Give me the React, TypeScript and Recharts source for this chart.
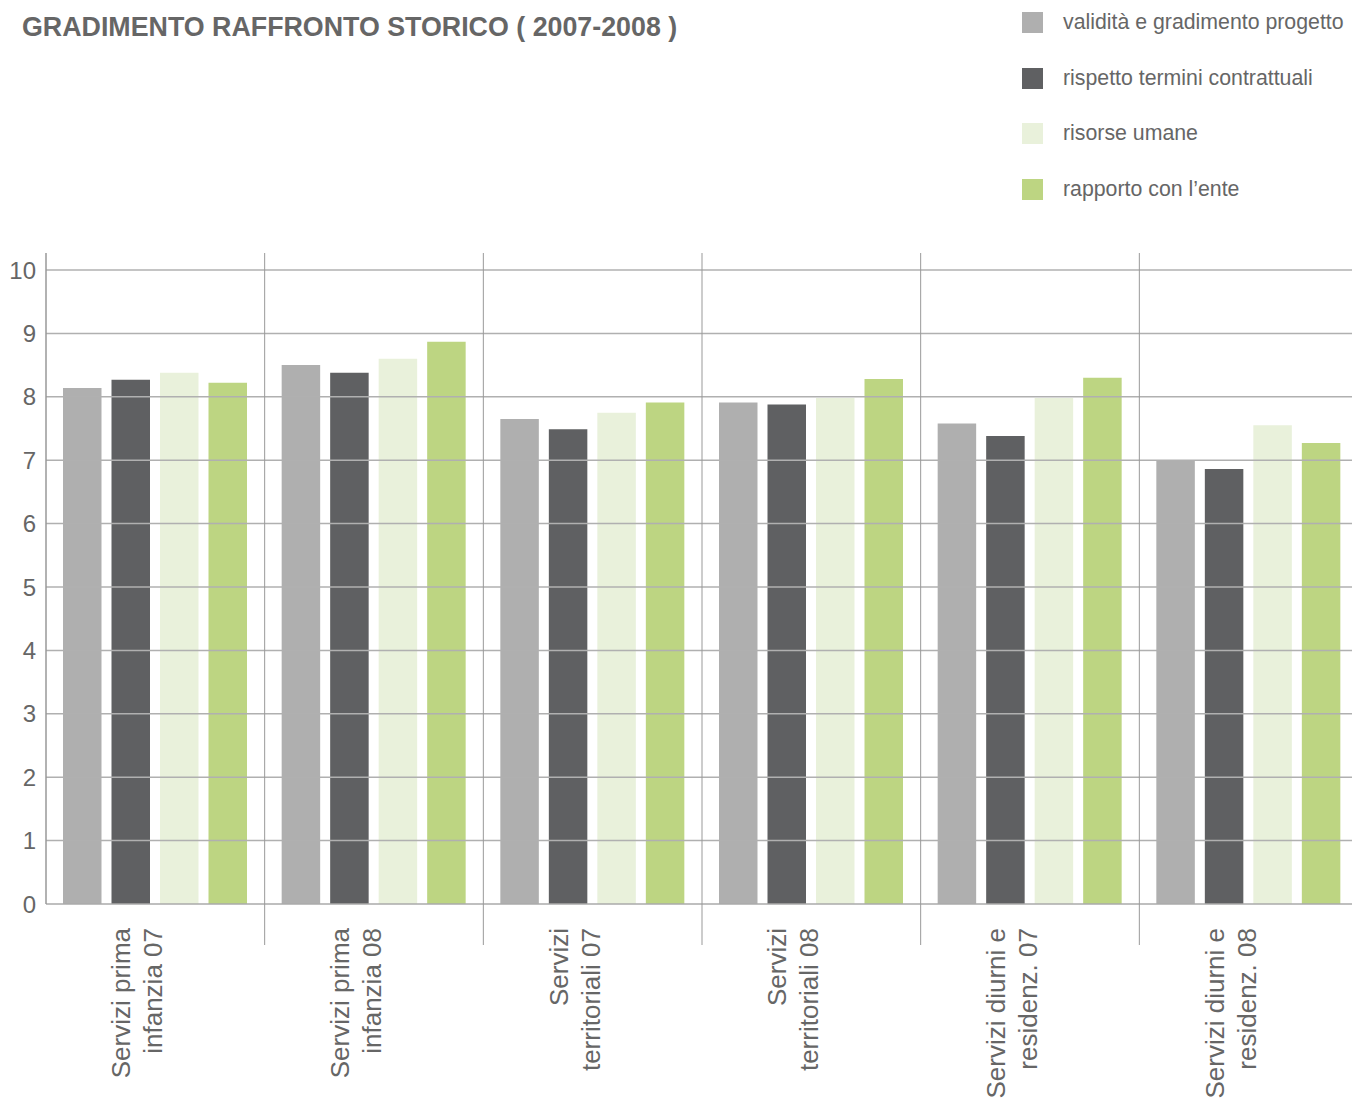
import React from "react"
import { BarChart, Bar, XAxis, YAxis, ReferenceLine } from "recharts"

const categories = [
  ["Servizi prima", "infanzia 07"],
  ["Servizi prima", "infanzia 08"],
  ["Servizi", "territoriali 07"],
  ["Servizi", "territoriali 08"],
  ["Servizi diurni e", "residenz. 07"],
  ["Servizi diurni e", "residenz. 08"],
]

const validita = [8.14, 8.5, 7.65, 7.91, 7.58, 7.0]
const rispetto = [8.27, 8.38, 7.49, 7.88, 7.38, 6.86]
const risorse = [8.38, 8.6, 7.75, 7.98, 7.98, 7.55]
const rapporto = [8.22, 8.87, 7.91, 8.28, 8.3, 7.27]

const yTicks = [0, 1, 2, 3, 4, 5, 6, 7, 8, 9, 10]

const series = [
  { key: "validita", name: "validità e gradimento progetto", color: "#afafaf" },
  { key: "rispetto", name: "rispetto termini contrattuali", color: "#5f6062" },
  { key: "risorse", name: "risorse umane", color: "#e9f1db" },
  { key: "rapporto", name: "rapporto con l’ente", color: "#bdd582" },
]

const data = categories.map((c, i) => ({
  name: c.join(" "),
  validita: validita[i],
  rispetto: rispetto[i],
  risorse: risorse[i],
  rapporto: rapporto[i],
}))

const W = 1352
const H = 1101
const CHART_W = 1358 // plot runs a little past the right edge, like the original
const TOP = 253
const AXIS_Y = 904
const Y_W = 46
const BAND = (CHART_W - Y_W) / categories.length
const FONT = '"Liberation Sans", Arial, Helvetica, sans-serif'
const TEXT = "#666666"

function CategoryTick(props: any) {
  const { x, y, index } = props
  const lines = categories[index] || []
  const left = x - BAND / 2
  return (
    <g>
      {index > 0 && (
        <line x1={left} x2={left} y1={y - (AXIS_Y - TOP)} y2={y + 41} stroke="#999" strokeWidth={1} />
      )}
      <g transform={`translate(${x},${y + 24}) rotate(-90)`}>
        <text textAnchor="end" fill={TEXT} fontSize={26} fontFamily={FONT}>
          <tspan x={0} y={-25}>{lines[0]}</tspan>
          <tspan x={0} y={7}>{lines[1]}</tspan>
        </text>
      </g>
    </g>
  )
}

export default function App() {
  return (
    <div style={{ position: "fixed", left: 0, top: 0, width: W, height: H, overflow: "hidden", background: "#fff", fontFamily: FONT }}>
      <div style={{ position: "absolute", left: 22, top: 12, fontSize: 26.8, fontWeight: "bold", color: TEXT, lineHeight: "30px", whiteSpace: "nowrap" }}>
        GRADIMENTO RAFFRONTO STORICO ( 2007-2008 )
      </div>
      <div style={{ position: "absolute", left: 1022, top: 12 }}>
        {series.map((s) => (
          <div key={s.key} style={{ display: "flex", alignItems: "center", height: 21, marginBottom: 34.7 }}>
            <div style={{ width: 21, height: 21, background: s.color }} />
            <span style={{ marginLeft: 20, fontSize: 21.3, color: TEXT, whiteSpace: "nowrap" }}>{s.name}</span>
          </div>
        ))}
      </div>
      <div style={{ position: "absolute", left: 0, top: 0 }}>
        <BarChart width={CHART_W} height={H} data={data} margin={{ top: TOP, right: 0, bottom: 0, left: 0 }} barSize={38.5} barGap={10}>
          <XAxis
            dataKey="name"
            height={H - AXIS_Y}
            tickLine={false}
            tickSize={0}
            tickMargin={0}
            interval={0}
            axisLine={{ stroke: "#aaa", strokeWidth: 1.5 }}
            tick={<CategoryTick />}
          />
          <YAxis
            width={Y_W}
            type="number"
            domain={[0, (AXIS_Y - TOP) / 63.4]}
            ticks={yTicks}
            tickLine={false}
            tickSize={0}
            tickMargin={10}
            axisLine={{ stroke: "#999", strokeWidth: 1.5 }}
            tick={{ fill: TEXT, fontSize: 24, fontFamily: FONT }}
          />
          {yTicks.slice(1).map((t) => (
            <ReferenceLine key={t} y={t} stroke="#b0b0b0" strokeWidth={1.5} />
          ))}
          {series.map((s) => (
            <Bar key={s.key} dataKey={s.key} name={s.name} fill={s.color} isAnimationActive={false} />
          ))}
        </BarChart>
      </div>
    </div>
  )
}
